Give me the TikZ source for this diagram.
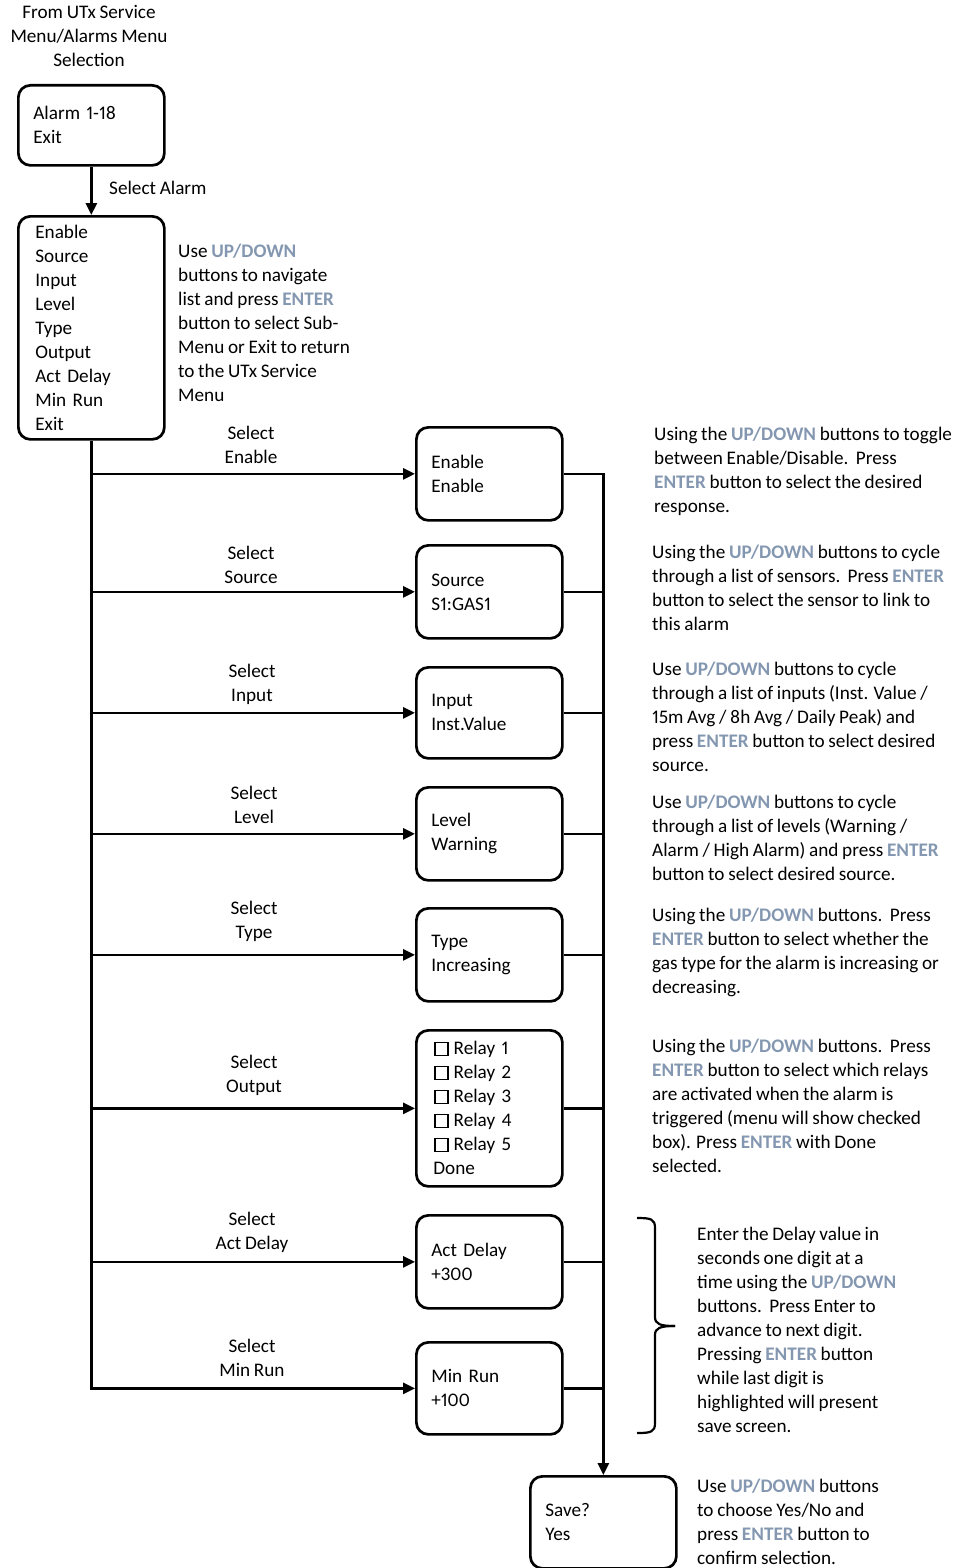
\documentclass[tikz,border=0pt]{standalone}
\usepackage{fontspec}
\setmainfont[WordSpace=0.85,Numbers=Proportional]{Carlito}
\usetikzlibrary{arrows.meta}
\definecolor{hl}{HTML}{8497B0}
\newcommand\kw[1]{{\bfseries\color{hl}#1}}
\newcommand\cbx{\raisebox{0pt}{\setlength\fboxrule{1.4pt}\setlength\fboxsep{0pt}\fbox{\rule{0pt}{11.5pt}\hspace{11.5pt}}}\hspace{5pt}}
\begin{document}
\begin{tikzpicture}[x=1pt,y=-1pt,
 every node/.style={font=\fontsize{19.2}{24}\selectfont, inner sep=0pt},
 box/.style={draw, line width=2.7pt, rounded corners=12pt, minimum width=146pt, text width=116pt, align=left, inner xsep=15pt, anchor=north west},
 ln/.style={line width=2.7pt},
 arr/.style={ln,-{Triangle[length=12pt,width=11pt]}},
 desc/.style={align=left, anchor=west},
 sel/.style={align=center}]
\useasboundingbox (0,0) rectangle (954,1568);

\node[sel] (title) at (89,35.5) {From UTx Service\\Menu/Alarms Menu\\Selection};

\node[box, minimum height=80pt] (b1) at (17,84) {Alarm 1-18\\Exit};
\node[box, minimum height=223pt, inner xsep=17pt, text width=112pt] (b2) at (17,215) {Enable\\Source\\Input\\Level\\Type\\Output\\Act Delay\\Min Run\\Exit};
\draw[arr] (b1) -- (b2);
\node[anchor=west] (selal) at (109,188) {Select Alarm};
\node[desc] (d0) at (178,323) {Use \kw{UP/DOWN}\\buttons to navigate\\list and press \kw{ENTER}\\button to select Sub-\\Menu or Exit to return\\to the UTx Service\\Menu};

\node[box, minimum height=93pt] (en) at (415,426) {Enable\\Enable};
\node[box, minimum height=93pt] (src) at (415,544) {Source\\S1:GAS1};
\node[box, minimum height=91pt] (inp) at (415,666) {Input\\Inst.Value};
\node[box, minimum height=93pt] (lvl) at (415,786) {Level\\Warning};
\node[box, minimum height=93pt] (typ) at (415,907) {Type\\Increasing};
\node[box, minimum height=156pt, inner xsep=18pt, text width=110pt] (out) at (415,1029) {\cbx Relay 1\\\cbx Relay 2\\\cbx Relay 3\\\cbx Relay 4\\\cbx Relay 5\\\hspace*{-1pt}Done};
\node[box, minimum height=93pt] (ad) at (415,1214) {Act Delay\\+300};
\node[box, minimum height=92pt] (mr) at (415,1341) {Min Run\\+100};
\node[box, minimum height=92pt] (save) at (529,1475) {Save?\\Yes};

\draw[arr] (b2.south) |- (mr.west);
\foreach \n in {en,src,inp,lvl,typ,out,ad} \draw[arr] (b2.south |- \n.west) -- (\n.west);
\draw[arr] (en.east) -| (save.north);
\foreach \n in {src,inp,lvl,typ,out,ad,mr} \draw[ln] (\n.east) -- (\n.east -| save.north);

\node[sel] (l1) at (251,445) {Select\\Enable};
\node[sel] (l2) at (251,565) {Select\\Source};
\node[sel] (l3) at (252,684) {Select\\Input};
\node[sel] (l4) at (254,805) {Select\\Level};
\node[sel] (l5) at (254,921) {Select\\Type};
\node[sel] (l6) at (254,1075) {Select\\Output};
\node[sel] (l7) at (252,1232) {Select\\Act Delay};
\node[sel] (l8) at (252,1358) {Select\\Min Run};

\node[desc] (d1) at (654,471) {Using the \kw{UP/DOWN} buttons to toggle\\between Enable/Disable.\ \ Press\\\kw{ENTER} button to select the desired\\response.};
\node[desc] (d2) at (652,588) {Using the \kw{UP/DOWN} buttons to cycle\\through a list of sensors.\ \ Press \kw{ENTER}\\button to select the sensor to link to\\this alarm};
\node[desc] (d3) at (652,716.5) {Use \kw{UP/DOWN} buttons to cycle\\through a list of inputs (Inst. Value /\\15m Avg / 8h Avg / Daily Peak) and\\press \kw{ENTER} button to select desired\\source.};
\node[desc] (d4) at (652,838) {Use \kw{UP/DOWN} buttons to cycle\\through a list of levels (Warning /\\Alarm / High Alarm) and press \kw{ENTER}\\button to select desired source.};
\node[desc] (d5) at (652,952) {Using the \kw{UP/DOWN} buttons.\ \ Press\\\kw{ENTER} button to select whether the\\gas type for the alarm is increasing or\\decreasing.};
\node[desc] (d6) at (652,1106) {Using the \kw{UP/DOWN} buttons.\ \ Press\\\kw{ENTER} button to select which relays\\are activated when the alarm is\\triggered (menu will show checked\\box). Press \kw{ENTER} with Done\\selected.};
\node[desc] (d7) at (697,1329.5) {Enter the Delay value in\\seconds one digit at a\\time using the \kw{UP/DOWN}\\buttons.\ \ Press Enter to\\advance to next digit.\\Pressing \kw{ENTER} button\\while last digit is\\highlighted will present\\save screen.};
\node[desc] (d8) at (697,1521.5) {Use \kw{UP/DOWN} buttons\\to choose Yes/No and\\press \kw{ENTER} button to\\confirm selection.};

\draw[line width=2.2pt] (637,1218) .. controls (651,1218) and (655,1219) .. (655,1228) -- (655,1317) .. controls (655,1324) and (660,1326) .. (675,1326);
\draw[line width=2.2pt] (637,1433) .. controls (651,1433) and (655,1432) .. (655,1423) -- (655,1335) .. controls (655,1328) and (660,1326) .. (675,1326);
\end{tikzpicture}
\end{document}
